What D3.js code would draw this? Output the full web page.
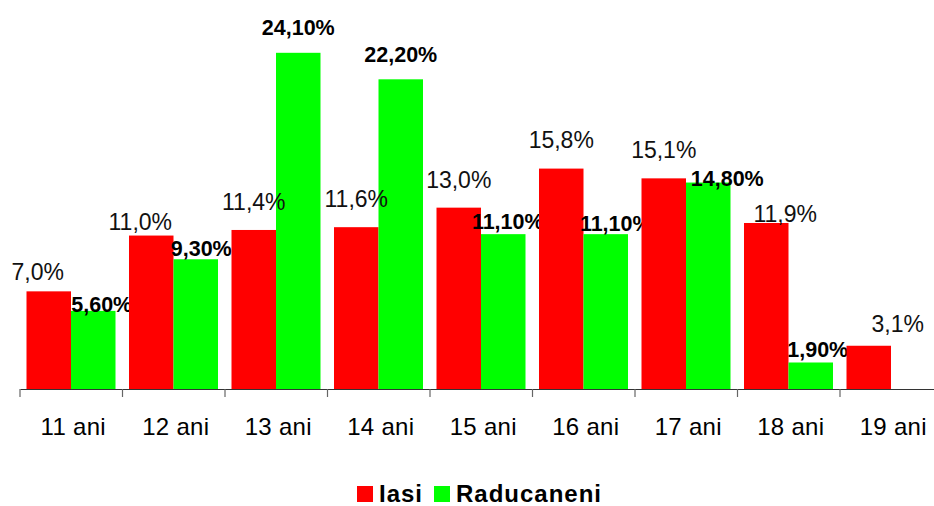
<!DOCTYPE html>
<html>
<head>
<meta charset="utf-8">
<script src="https://cdn.jsdelivr.net/npm/d3@7"></script>
<style>
    body { margin: 0; background: #fff; }
    svg { display: block; font-family: "Liberation Sans", Arial, sans-serif; }
</style>
</head>
<body>
<div id="chart"></div>
<script>
// Data
const categories = ["11 ani", "12 ani", "13 ani", "14 ani", "15 ani", "16 ani", "17 ani", "18 ani", "19 ani"];
const iasiValues = [7.0, 11.0, 11.4, 11.6, 13.0, 15.8, 15.1, 11.9, 3.1];
const raducaneniValues = [5.6, 9.3, 24.1, 22.2, 11.1, 11.1, 14.8, 1.9, null];
const seriesNames = ["Iasi", "Raducaneni"];

// label nudges (Excel had a few labels dragged by hand)
const iasiLabelDx = [-11, -11, 0, 0, 0, 0, 0, 19, 29];
const iasiLabelGap = [11, 6, 20, 20, 20, 21, 20, 1, 14];
const raducLabelDx = [8.5, 5.5, 0, 0, 4.5, 10, 19, 7, 0];
const raducLabelGap = [-1, 3, 18, 17, 5, 3, -3, 5, 0];

const colors = { "Iasi": "#ff0000", "Raducaneni": "#00ff00" };

const width = 934, height = 506;
const baseY = 389;

const svg = d3.select("#chart").append("svg")
    .attr("width", width)
    .attr("height", height);

// Scales
const x = d3.scaleBand()
    .domain(categories)
    .range([20, 20 + categories.length * 102.5])
    .padding(0);

const xSeries = d3.scaleBand()
    .domain(seriesNames)
    .range([6.5, 95.5])
    .padding(0);

const y = d3.scaleLinear()
    .domain([0, 25])
    .range([baseY, baseY - 25 * 13.95]);

const fmtIasi = d => d.toFixed(1).replace(".", ",") + "%";
const fmtRaduc = d => d.toFixed(2).replace(".", ",") + "%";

// Bars
const groups = svg.selectAll(".cat")
    .data(categories)
    .enter().append("g")
    .attr("class", "cat")
    .attr("transform", d => "translate(" + x(d) + ",0)");

groups.append("rect")
    .attr("x", xSeries("Iasi"))
    .attr("width", xSeries.bandwidth())
    .attr("y", (d, i) => y(iasiValues[i]))
    .attr("height", (d, i) => y(0) - y(iasiValues[i]))
    .attr("fill", colors["Iasi"]);

groups.filter((d, i) => raducaneniValues[i] != null)
    .append("rect")
    .attr("x", xSeries("Raducaneni"))
    .attr("width", xSeries.bandwidth())
    .attr("y", d => y(raducaneniValues[categories.indexOf(d)]))
    .attr("height", d => y(0) - y(raducaneniValues[categories.indexOf(d)]))
    .attr("fill", colors["Raducaneni"]);

// X axis
const xAxis = d3.axisBottom(x).tickSize(0).tickPadding(0).tickFormat("");
const axisG = svg.append("g")
    .attr("transform", "translate(0," + baseY + ")")
    .call(xAxis);
axisG.select(".domain").attr("stroke", "#333").attr("stroke-width", 1.2);

// ticks at the band edges
const edges = categories.map(c => x(c)).concat([x.range()[1]]);
axisG.selectAll(".edge")
    .data(edges)
    .enter().append("line")
    .attr("class", "edge")
    .attr("x1", d => d).attr("x2", d => d)
    .attr("y1", 0).attr("y2", 8)
    .attr("stroke", "#666")
    .attr("stroke-width", 1.2);

axisG.selectAll(".cat-label")
    .data(categories)
    .enter().append("text")
    .attr("class", "cat-label")
    .attr("x", d => x(d) + x.bandwidth() / 2 + 2)
    .attr("y", 46)
    .attr("text-anchor", "middle")
    .style("font-size", "24px")
    .style("letter-spacing", "0.3px")
    .style("fill", "#000")
    .text(d => d);

// Value labels
groups.append("text")
    .attr("x", (d, i) => xSeries("Iasi") + xSeries.bandwidth() / 2 + iasiLabelDx[i])
    .attr("y", (d, i) => y(iasiValues[i]) - iasiLabelGap[i])
    .attr("text-anchor", "middle")
    .style("font-size", "23px")
    .style("fill", "#111")
    .text((d, i) => fmtIasi(iasiValues[i]));

groups.filter((d, i) => raducaneniValues[i] != null)
    .append("text")
    .attr("x", d => xSeries("Raducaneni") + xSeries.bandwidth() / 2 + raducLabelDx[categories.indexOf(d)])
    .attr("y", d => y(raducaneniValues[categories.indexOf(d)]) - raducLabelGap[categories.indexOf(d)])
    .attr("text-anchor", "middle")
    .style("font-size", "21.5px")
    .style("font-weight", "bold")
    .style("fill", "#000")
    .text(d => fmtRaduc(raducaneniValues[categories.indexOf(d)]));

// Legend
const legend = svg.append("g")
    .attr("class", "legend")
    .attr("transform", "translate(357,486)");

const legendX = [0, 77];
const legendItems = legend.selectAll(".legend-item")
    .data(seriesNames)
    .enter().append("g")
    .attr("class", "legend-item")
    .attr("transform", (d, i) => "translate(" + legendX[i] + ",0)");

legendItems.append("rect")
    .attr("width", 16)
    .attr("height", 16)
    .attr("fill", d => colors[d]);

legendItems.append("text")
    .attr("x", 22)
    .attr("y", 16)
    .style("font-size", "24px")
    .style("font-weight", "bold")
    .style("letter-spacing", "1px")
    .style("fill", "#000")
    .text(d => d);
</script>
</body>
</html>
